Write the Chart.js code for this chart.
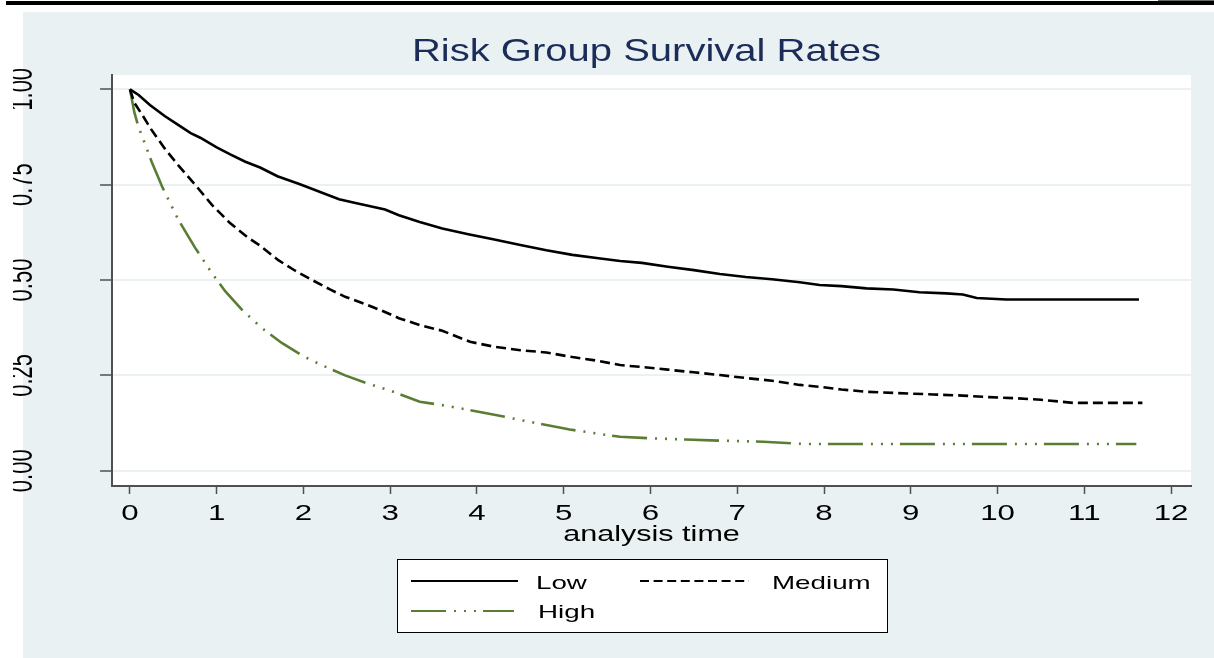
<!DOCTYPE html>
<html>
<head>
<meta charset="utf-8">
<script src="https://cdn.jsdelivr.net/npm/chart.js@4/dist/chart.umd.min.js"></script>
<style>
  html, body { margin: 0; padding: 0; background: #ffffff; }
  #c { display: block; }
</style>
</head>
<body>
<canvas id="c" width="1214" height="658"></canvas>
<script>
// ---------------- DATA ----------------
const chartTitle = "Risk Group Survival Rates";
const xAxisTitle = "analysis time";
const seriesNames = ["Low", "Medium", "High"];

const xTicks = [0,1,2,3,4,5,6,7,8,9,10,11,12];
const xTickLabels = ["0","1","2","3","4","5","6","7","8","9","10","11","12"];
const yTicks = [0, 0.25, 0.5, 0.75, 1.0];
const yTickLabels = ["0.00","0.25","0.50","0.75","1.00"];

const lowTime = [0,0.1,0.23,0.4,0.56,0.7,0.81,1.0,1.15,1.33,1.5,1.7,1.96,2.2,2.41,2.6,2.94,3.1,3.34,3.6,3.9,4.2,4.5,4.8,5.1,5.4,5.65,5.9,6.2,6.5,6.8,7.1,7.4,7.72,7.95,8.2,8.49,8.8,9.1,9.41,9.6,9.76,10.1,10.5,11.63];
const lowSurv = [1.0,0.985,0.959,0.93,0.906,0.885,0.873,0.848,0.83,0.81,0.795,0.772,0.751,0.73,0.712,0.702,0.685,0.67,0.652,0.635,0.62,0.606,0.592,0.578,0.566,0.557,0.55,0.545,0.535,0.526,0.516,0.508,0.502,0.494,0.487,0.484,0.478,0.475,0.468,0.465,0.462,0.453,0.449,0.449,0.449];

const medTime = [0,0.05,0.15,0.25,0.4,0.56,0.75,0.945,1.15,1.35,1.5,1.71,1.9,2.1,2.3,2.48,2.7,2.9,3.1,3.34,3.6,3.92,4.2,4.5,4.8,5.1,5.4,5.65,5.9,6.2,6.5,6.8,7.1,7.4,7.72,7.95,8.2,8.49,8.8,9.26,9.6,9.9,10.22,10.5,10.87,11.67];
const medSurv = [1.0,0.965,0.93,0.893,0.845,0.8,0.75,0.697,0.65,0.613,0.59,0.552,0.525,0.5,0.476,0.456,0.438,0.42,0.4,0.382,0.367,0.338,0.325,0.316,0.31,0.298,0.288,0.277,0.272,0.265,0.258,0.251,0.243,0.236,0.225,0.22,0.213,0.207,0.204,0.2,0.197,0.193,0.19,0.186,0.178,0.178];

const highTime = [0,0.05,0.1,0.17,0.25,0.37,0.56,0.75,0.945,1.1,1.3,1.52,1.75,2.0,2.2,2.48,2.75,3.0,3.34,3.6,3.92,4.2,4.5,4.8,5.07,5.4,5.65,6.0,6.4,6.8,7.3,7.78,11.6];
const highSurv = [1.0,0.94,0.9,0.859,0.81,0.745,0.657,0.585,0.518,0.47,0.42,0.374,0.335,0.3,0.278,0.25,0.228,0.21,0.181,0.172,0.159,0.147,0.133,0.12,0.108,0.097,0.089,0.085,0.082,0.079,0.076,0.07,0.07];

// ---------------- STYLE ----------------
const FONT = '"Liberation Sans", Arial, sans-serif';
const BG_BLUE = '#E9F1F3';
const AXIS_GRAY = '#505050';
const GREEN = '#5A7D34';
const TITLE_COLOR = '#1C2C58';
const styles = [
  { color: '#000000', dash: [], width: 2.6 },
  { color: '#000000', dash: [10, 5], width: 2.6 },
  { color: GREEN, dash: [35, 8, 2, 8, 2, 8, 2, 7], width: 2.6 }
];

function pts(t, s) { return t.map((v, i) => ({ x: v, y: s[i] })); }

function drawStretched(ctx, text, x, y, size, color, sx, align) {
  ctx.save();
  ctx.font = size + 'px ' + FONT;
  ctx.fillStyle = color;
  ctx.textAlign = align || 'center';
  ctx.textBaseline = 'alphabetic';
  ctx.translate(x, y);
  ctx.scale(sx, 1);
  ctx.fillText(text, 0, 0);
  ctx.restore();
}

const decor = {
  id: 'decor',
  beforeDraw(chart) {
    const ctx = chart.ctx;
    const a = chart.chartArea;
    ctx.save();
    ctx.fillStyle = '#ffffff';
    ctx.fillRect(0, 0, chart.width, chart.height);
    ctx.fillStyle = '#000000';
    ctx.fillRect(6, 1, chart.width - 6, 4);
    ctx.fillStyle = '#666666';
    ctx.fillRect(1158, 0, 56, 1);
    ctx.fillStyle = BG_BLUE;
    ctx.fillRect(23, 12, chart.width - 23, chart.height - 12);
    ctx.fillStyle = '#ffffff';
    ctx.fillRect(a.left, a.top, a.right - a.left, a.bottom - a.top);
    ctx.restore();
  },
  afterDraw(chart) {
    const ctx = chart.ctx;
    const xs = chart.scales.x, ys = chart.scales.y;
    const a = chart.chartArea;
    // title
    drawStretched(ctx, chartTitle, (a.left + a.right) / 2 - 5, 61, 32, TITLE_COLOR, 1.25, 'center');
    // x tick labels
    xs.ticks.forEach(t => {
      const px = xs.getPixelForValue(t.value);
      drawStretched(ctx, xTickLabels[xTicks.indexOf(t.value)], px, 520, 22, '#000', 1.42, 'center');
    });
    // x axis title
    drawStretched(ctx, xAxisTitle, (a.left + a.right) / 2, 541, 22, '#000', 1.39, 'center');
    // y tick labels (rotated, clipped like the reference)
    ctx.save();
    ctx.beginPath();
    ctx.rect(13, 0, chart.width, chart.height);
    ctx.clip();
    ys.ticks.forEach(t => {
      const py = ys.getPixelForValue(t.value);
      ctx.save();
      ctx.translate(32, py);
      ctx.rotate(-Math.PI / 2);
      ctx.scale(1, 1.5);
      ctx.font = '22px ' + FONT;
      ctx.fillStyle = '#000';
      ctx.textAlign = 'center';
      ctx.textBaseline = 'alphabetic';
      ctx.fillText(yTickLabels[yTicks.indexOf(t.value)], 0, 0);
      ctx.restore();
    });
    ctx.restore();
    // legend
    ctx.save();
    ctx.fillStyle = '#ffffff';
    ctx.fillRect(397, 559, 490, 73);
    ctx.strokeStyle = '#000';
    ctx.lineWidth = 1;
    ctx.strokeRect(397.5, 559.5, 490, 73);
    const legendItems = [
      { x0: 411, x1: 518, y: 581, tx: 536, ty: 589 },
      { x0: 640, x1: 749, y: 581, tx: 772, ty: 589 },
      { x0: 411, x1: 514, y: 611, tx: 538, ty: 618 }
    ];
    chart.data.datasets.forEach((ds, i) => {
      const L = legendItems[i];
      ctx.save();
      ctx.strokeStyle = ds.borderColor;
      ctx.lineWidth = 2;
      ctx.setLineDash(i === 1 ? [9, 4.6] : ds.borderDash);
      ctx.beginPath();
      ctx.moveTo(L.x0, L.y);
      ctx.lineTo(L.x1, L.y);
      ctx.stroke();
      ctx.restore();
      drawStretched(ctx, ds.label, L.tx, L.ty, 18.5, '#000', 1.5, 'left');
    });
    ctx.restore();
  }
};

new Chart(document.getElementById('c'), {
  type: 'line',
  data: {
    datasets: [
      { label: seriesNames[0], data: pts(lowTime, lowSurv) },
      { label: seriesNames[1], data: pts(medTime, medSurv) },
      { label: seriesNames[2], data: pts(highTime, highSurv) }
    ].map((d, i) => Object.assign(d, {
      borderColor: styles[i].color,
      borderDash: styles[i].dash,
      borderWidth: styles[i].width,
      pointRadius: 0,
      fill: false,
      tension: 0
    }))
  },
  options: {
    responsive: false,
    animation: false,
    devicePixelRatio: 1,
    layout: { padding: { left: 100, top: 75, right: 23, bottom: 112 } },
    plugins: {
      legend: { display: false },
      title: { display: false },
      tooltip: { enabled: false }
    },
    scales: {
      x: {
        type: 'linear',
        min: -0.207,
        max: 12.23,
        afterBuildTicks(scale) { scale.ticks = xTicks.map(v => ({ value: v })); },
        afterFit(scale) { scale.height = 60; },
        ticks: { display: false },
        grid: { drawOnChartArea: false, drawTicks: true, tickLength: 8, tickColor: AXIS_GRAY, tickWidth: 1.5 },
        border: { display: true, color: AXIS_GRAY, width: 2 }
      },
      y: {
        type: 'linear',
        min: -0.040,
        max: 1.0375,
        afterBuildTicks(scale) { scale.ticks = yTicks.map(v => ({ value: v })); },
        afterFit(scale) { scale.width = 12; },
        ticks: { display: false },
        grid: { color: BG_BLUE, lineWidth: 2, drawTicks: true, tickLength: 12, tickColor: AXIS_GRAY, tickWidth: 1.5 },
        border: { display: true, color: AXIS_GRAY, width: 2 }
      }
    }
  },
  plugins: [decor]
});
</script>
</body>
</html>
